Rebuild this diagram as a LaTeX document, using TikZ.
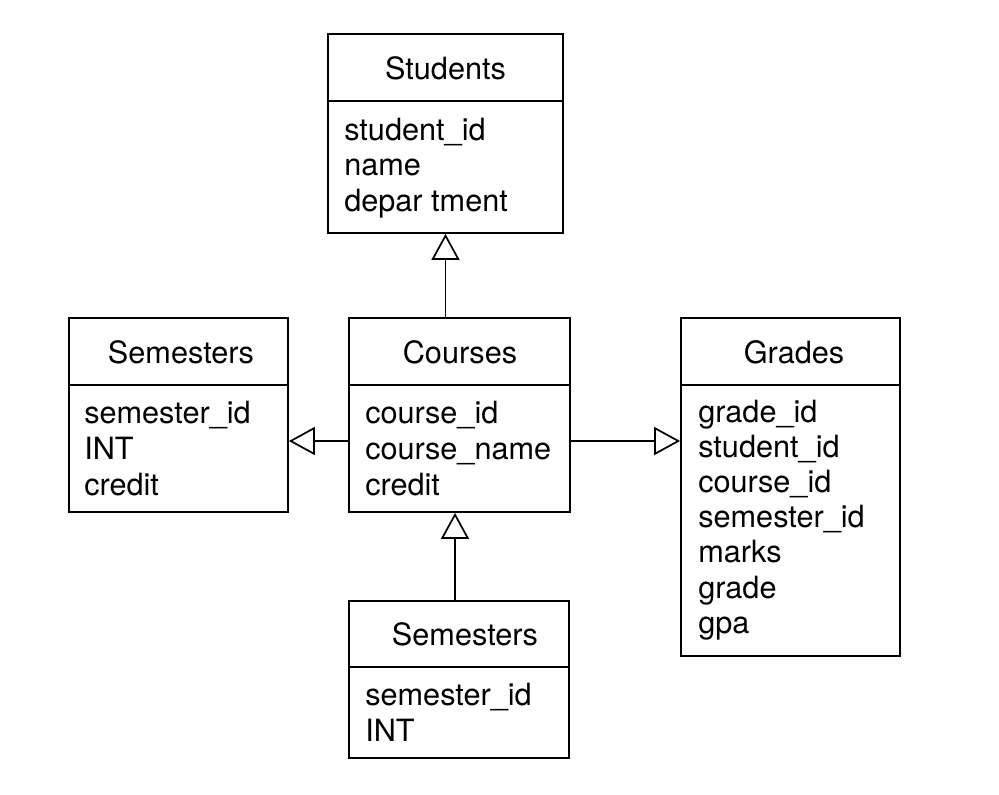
\documentclass[tikz,border=0pt]{standalone}
\usepackage{fontspec}
\setmainfont{TeX Gyre Heros}
\usetikzlibrary{fit,arrows.meta}
\begin{document}
\begin{tikzpicture}[x=0.75pt,y=-0.75pt,
  ent/.style={draw, line width=1.3pt, inner sep=0pt},
  sep/.style={line width=1.3pt},
  ttl/.style={anchor=base, font=\fontsize{23}{27}\selectfont, inner sep=0pt},
  att/.style={anchor=base west, font=\fontsize{23}{27}\selectfont, inner sep=0pt},
  inh/.style={line width=1.3pt, -{Triangle[open, length=19.5pt, width=21pt, line width=1.3pt]}}]
\useasboundingbox[fill=white] (0,0) rectangle (999,794);

% Students
\node[ent, fit={(328,34) (563,233)}] (stu) {};
\draw[sep] (stu.west |- 0,101) -- (stu.east |- 0,101);
\node[ttl] (stu-t) at (445.5,79) {Students};
\foreach \t [count=\i] in {student\_id,name,depar tment}
  \node[att] (stu-a\i) at (344,{140+35.5*(\i-1)}) {\t};

% Semesters (left)
\node[ent, fit={(69,318) (288,512)}] (seml) {};
\draw[sep] (seml.west |- 0,385) -- (seml.east |- 0,385);
\node[ttl] (seml-t) at (181,363) {Semesters};
\foreach \t [count=\i] in {semester\_id,INT,credit}
  \node[att] (seml-a\i) at (84,{423+36*(\i-1)}) {\t};

% Courses
\node[ent, fit={(349,318) (570,512)}] (cou) {};
\draw[sep] (cou.west |- 0,385) -- (cou.east |- 0,385);
\node[ttl] (cou-t) at (460,363) {Courses};
\foreach \t [count=\i] in {course\_id,course\_name,credit}
  \node[att] (cou-a\i) at (365,{423+36*(\i-1)}) {\t};

% Grades
\node[ent, fit={(681,318) (900,656)}] (gra) {};
\draw[sep] (gra.west |- 0,385) -- (gra.east |- 0,385);
\node[ttl] (gra-t) at (794,363) {Grades};
\foreach \t [count=\i] in {grade\_id,student\_id,course\_id,semester\_id,marks,grade,gpa}
  \node[att] (gra-a\i) at (698,{422+35.2*(\i-1)}) {\t};

% Semesters (bottom)
\node[ent, fit={(349,601) (569,758)}] (semb) {};
\draw[sep] (semb.west |- 0,667) -- (semb.east |- 0,667);
\node[ttl] (semb-t) at (465,645) {Semesters};
\foreach \t [count=\i] in {semester\_id,INT}
  \node[att] (semb-a\i) at (365,{705+36*(\i-1)}) {\t};

% connectors
\draw[inh] (cou.north -| stu.south) -- (stu.south);
\draw[inh] (cou.west |- 0,441) -- (seml.east |- 0,441);
\draw[inh] (cou.east |- 0,441) -- (gra.west |- 0,441);
\draw[inh] (semb.north -| 455,0) -- (cou.south -| 455,0);
\end{tikzpicture}
\end{document}
